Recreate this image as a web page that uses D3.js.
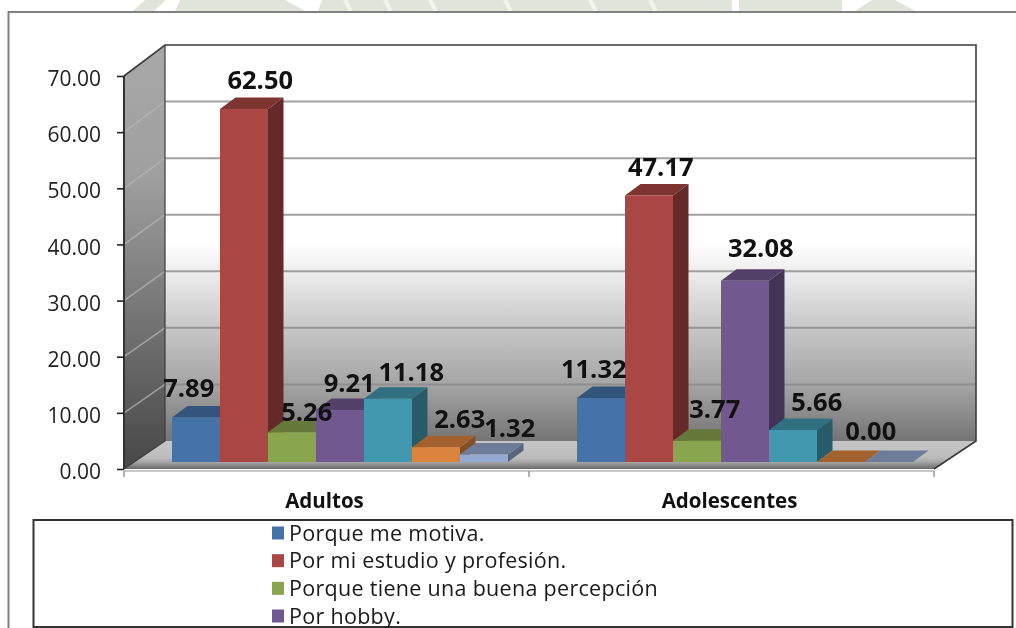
<!DOCTYPE html>
<html><head><meta charset="utf-8">
<script src="https://cdn.jsdelivr.net/npm/d3@7/dist/d3.min.js"></script>
<style>
html,body{margin:0;padding:0;background:#fff;overflow:hidden}
svg{display:block;filter:blur(0.45px)}
text{font-family:"Open Sans",sans-serif;fill:#1a1a1a}
</style></head><body>
<svg id="c" width="1016" height="628"></svg>
<script>
// ---- data ----
const categories = ["Adultos", "Adolescentes"];
const tickValues = [0, 10, 20, 30, 40, 50, 60, 70];
const seriesMotiva     = [7.89, 11.32];
const seriesEstudio    = [62.50, 47.17];
const seriesPercepcion = [5.26, 3.77];
const seriesHobby      = [9.21, 32.08];
const seriesQuinta     = [11.18, 5.66];
const seriesSexta      = [2.63, 0.00];
const seriesSeptima    = [1.32, 0.00];
const legendLabels = ["Porque me motiva.", "Por mi estudio y profesión.", "Porque tiene una buena percepción", "Por hobby."];

// ---- styling / layout ----
const allSeries = [seriesMotiva, seriesEstudio, seriesPercepcion, seriesHobby, seriesQuinta, seriesSexta, seriesSeptima];
const colors = ["#4572a7", "#aa4643", "#89a54e", "#71588f", "#4198af", "#db843d", "#93a9cf"];
// hand-placed label shifts as in the source chart: [series][category] -> [dx, dy]; null = no label
const nudges = [
  [[-15, -2.5], [-15, -2.5]],
  [[8.5, -2], [4, -2]],
  [[7, 6.5], [10, -5]],
  [[1.5, 0], [8, -6]],
  [[15.5, 0], [16, -1.5]],
  [[16, -2], [22, -4.5]],
  [[18, 0], null]
];
const wallDX = 41, wallDY = 28, barDX = 15.5, barDY = 11.5;

const svg = d3.select("#c");
const defs = svg.append("defs");
function grad(id, stops, y1, y2) {
  const g = defs.append("linearGradient").attr("id", id)
    .attr("gradientUnits", "userSpaceOnUse")
    .attr("x1", 0).attr("x2", 0).attr("y1", y1).attr("y2", y2);
  stops.forEach(s => g.append("stop").attr("offset", s[0]).attr("stop-color", s[1]));
}

// scales
const yFront = d3.scaleLinear().domain([0, 70]).range([469, 76]);
const yBack  = d3.scaleLinear().domain([0, 70]).range([441, 45]);
const yBar   = d3.scaleLinear().domain([0, 70]).range([462, 66.5]);
const x0 = d3.scaleBand().domain(categories).range([124, 934]).paddingInner(0.1704).paddingOuter(0.0852);
const x1 = d3.scaleBand().domain(d3.range(allSeries.length)).range([0, x0.bandwidth()]);
const barShift = 13.5;

// watermark remnants above the frame
const wm = [
  [[133,11],[145,0],[166,0],[154,11]],
  [[175,11],[180,0],[285,0],[305,11]],
  [[318,11],[322,0],[732,0],[732,11]],
  [[739,11],[739,0],[842,0],[842,11]],
  [[855,11],[872,0],[895,0],[915,11]]
];
svg.append("g").selectAll("polygon").data(wm).join("polygon")
  .attr("points", d => d.join(" ")).attr("fill", "#e0e5dc");
svg.append("g").selectAll("line").data([345,385,430,505,590,650]).join("line")
  .attr("x1", d => d).attr("x2", d => d + 6).attr("y1", 0).attr("y2", 11)
  .attr("stroke", "#f3f5f1").attr("stroke-width", 4);

// outer frame
svg.append("path").attr("d", "M8.5,628V12H1016").attr("fill", "none").attr("stroke", "#808080").attr("stroke-width", 2);

// walls
grad("back", [[0, "#ffffff"], [0.5, "#ffffff"], [0.57, "#eeeeee"], [0.71, "#c8c8c8"], [0.86, "#a4a4a4"], [1, "#747474"]], 45, 441);
grad("side", [[0, "#a8a8a8"], [0.3, "#a0a0a0"], [1, "#474747"]], 45, 469);
grad("floor", [[0, "#c6c6c6"], [0.55, "#bdbdbd"], [0.72, "#a8a8a8"], [1, "#5f5f5f"]], 441, 470);
const x3 = 976, xL = 124, xB = xL + wallDX, xR = x3 - wallDX - 1;

svg.append("rect").attr("x", xB).attr("y", yBack(70)).attr("width", x3 - xB).attr("height", yBack(0) - yBack(70)).attr("fill", "url(#back)");
svg.append("polygon").attr("points", [[xL, yFront(70)], [xB, yBack(70)], [xB, yBack(0)], [xL, yFront(0)]].join(" ")).attr("fill", "url(#side)");
svg.append("polygon").attr("points", [[xL, yFront(0)], [xB, yBack(0)], [x3, yBack(0)], [xR, yFront(0)]].join(" ")).attr("fill", "url(#floor)");

// gridlines
const gridTicks = tickValues.filter(t => t > 0 && t < 70);
svg.append("g").selectAll("line").data(gridTicks).join("line")
  .attr("x1", xB).attr("x2", x3).attr("y1", yBack).attr("y2", yBack)
  .attr("stroke", "#8a8a8a").attr("stroke-opacity", 0.8).attr("stroke-width", 2);
svg.append("g").selectAll("line").data(gridTicks).join("line")
  .attr("x1", xL).attr("x2", xB).attr("y1", yFront).attr("y2", yBack)
  .attr("stroke", "#b4b4b4").attr("stroke-opacity", 0.75).attr("stroke-width", 1.5);

// wall edges
const edge = "#3c3c3c";
svg.append("path")
  .attr("d", `M${xL},${yFront(70)}L${xB},${yBack(70)}H${x3}V${yBack(0)}L${xR},${yFront(0)}`)
  .attr("fill", "none").attr("stroke", edge).attr("stroke-width", 1.6);
svg.append("path")
  .attr("d", `M${xB},${yBack(70)}V${yBack(0)}L${xL},${yFront(0)}`)
  .attr("fill", "none").attr("stroke", edge).attr("stroke-width", 1.2);
svg.append("line").attr("x1", xL).attr("x2", xR).attr("y1", 471).attr("y2", 471).attr("stroke", "#b5b5b5").attr("stroke-width", 1.5);

// bars: side, top, front, painted left to right
const bars = svg.append("g");
categories.forEach((cat, c) => {
  allSeries.forEach((vals, s) => {
    const v = vals[c];
    const xa = x0(cat) + barShift + x1(s), w = x1.bandwidth();
    const yt = yBar(v), yb = yBar(0);
    const col = d3.color(colors[s]);
    if (v > 0) {
      bars.append("polygon")
        .attr("points", [[xa + w, yt], [xa + w + barDX, yt - barDY], [xa + w + barDX, yb - barDY], [xa + w, yb]].join(" "))
        .attr("fill", col.darker(1.45));
    }
    bars.append("polygon")
      .attr("points", [[xa, yt], [xa + barDX, yt - barDY], [xa + w + barDX, yt - barDY], [xa + w, yt]].join(" "))
      .attr("fill", col.darker(0.85));
    if (v > 0) {
      bars.append("rect").attr("x", xa).attr("y", yt).attr("width", w).attr("height", yb - yt).attr("fill", colors[s]);
    }
  });
});

// data labels
const labels = svg.append("g");
categories.forEach((cat, c) => {
  allSeries.forEach((vals, s) => {
    const n = nudges[s][c];
    if (!n) return;
    const v = vals[c];
    labels.append("text")
      .attr("x", x0(cat) + barShift + x1(s) + x1.bandwidth() / 2 + barDX / 2 + n[0])
      .attr("y", yBar(v) - barDY - 6 + n[1])
      .attr("text-anchor", "middle")
      .attr("font-size", 25.5).attr("font-weight", 700)
      .style("fill", "#111")
      .text(v.toFixed(2));
  });
});

// y axis
const yAxis = d3.axisLeft(yFront).tickValues(tickValues).tickFormat(d3.format(".2f")).tickSize(7).tickPadding(16);
const gy = svg.append("g").attr("transform", `translate(${xL},0)`).call(yAxis);
gy.select(".domain").attr("d", `M0,${yFront(70)}V${yFront(0)}`).attr("stroke", "#333").attr("stroke-width", 2);
gy.selectAll(".tick line").attr("stroke", "#222").attr("stroke-width", 1.6);
gy.selectAll(".tick text").attr("font-size", 21).attr("font-family", '"Open Sans",sans-serif').attr("dy", "0.46em").style("fill", "#222");

// x axis: category names + boundary ticks
const xAxis = d3.axisBottom(x0).tickSize(0).tickPadding(22);
const gx = svg.append("g").attr("transform", "translate(-2,471)").call(xAxis);
gx.select(".domain").remove();
gx.selectAll(".tick text").attr("font-size", 20.5).attr("font-weight", 700).attr("font-family", '"Open Sans",sans-serif').style("fill", "#111");
const boundaries = [x0.range()[0], (x0.range()[0] + x0.range()[1]) / 2, x0.range()[1]];
svg.append("g").selectAll("line").data(boundaries).join("line")
  .attr("x1", d => d).attr("x2", d => d).attr("y1", 471).attr("y2", 477)
  .attr("stroke", "#999").attr("stroke-width", 1.5);

// legend
svg.append("rect").attr("x", 33.5).attr("y", 520).attr("width", 979).attr("height", 107)
  .attr("fill", "#fff").attr("stroke", "#333").attr("stroke-width", 2);
const legendY = d3.scalePoint().domain(legendLabels).range([533, 616]);
const lg = svg.append("g").selectAll("g").data(legendLabels).join("g")
  .attr("transform", d => `translate(272,${legendY(d)})`);
lg.append("rect").attr("x", 0).attr("y", -6.5).attr("width", 12).attr("height", 13).attr("fill", (d, i) => colors[i]);
lg.append("text").attr("x", 17).attr("y", 7.5).attr("font-size", 21.5).attr("letter-spacing", 0.3).style("fill", "#1a1a1a").text(d => d);
</script>
</body></html>
